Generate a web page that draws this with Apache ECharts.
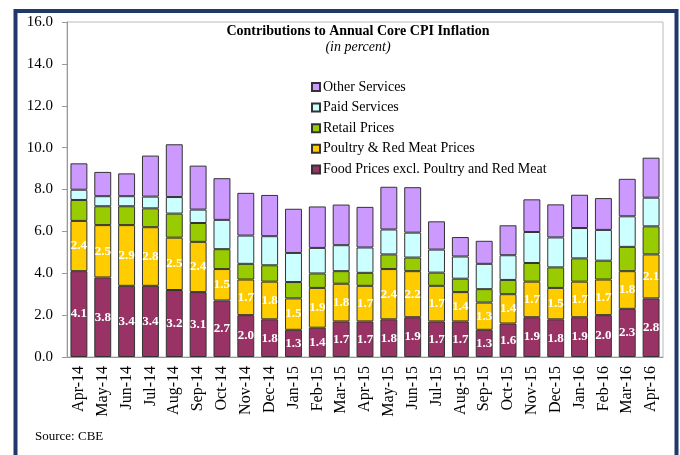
<!DOCTYPE html>
<html>
<head>
<meta charset="utf-8">
<script src="https://cdn.jsdelivr.net/npm/echarts@6/dist/echarts.min.js"></script>
<style>
  html, body { margin: 0; padding: 0; background: #fff; }
  #chart { width: 680px; height: 455px; }
</style>
</head>
<body>
<div id="chart"></div>
<script>
// months shown on the x axis
const months = ['Apr-14', 'May-14', 'Jun-14', 'Jul-14', 'Aug-14', 'Sep-14', 'Oct-14', 'Nov-14', 'Dec-14',
  'Jan-15', 'Feb-15', 'Mar-15', 'Apr-15', 'May-15', 'Jun-15', 'Jul-15', 'Aug-15', 'Sep-15', 'Oct-15',
  'Nov-15', 'Dec-15', 'Jan-16', 'Feb-16', 'Mar-16', 'Apr-16'];

// contributions (percentage points), bottom to top of each stack
const foodExcl = [4.1, 3.8, 3.4, 3.4, 3.2, 3.1, 2.7, 2.0, 1.8, 1.3, 1.4, 1.7, 1.7, 1.8, 1.9, 1.7, 1.7, 1.3, 1.6, 1.9, 1.8, 1.9, 2.0, 2.3, 2.8];
const poultryMeat = [2.4, 2.5, 2.9, 2.8, 2.5, 2.4, 1.5, 1.7, 1.8, 1.5, 1.9, 1.8, 1.7, 2.4, 2.2, 1.7, 1.4, 1.3, 1.4, 1.7, 1.5, 1.7, 1.7, 1.8, 2.1];
const retailPrices = [1.0, 0.9, 0.9, 0.9, 1.15, 0.9, 0.95, 0.75, 0.78, 0.78, 0.69, 0.6, 0.62, 0.7, 0.65, 0.63, 0.64, 0.64, 0.68, 0.89, 0.98, 1.11, 0.9, 1.16, 1.34];
const paidServices = [0.49, 0.48, 0.48, 0.56, 0.79, 0.64, 1.4, 1.35, 1.39, 1.39, 1.22, 1.24, 1.21, 1.19, 1.19, 1.1, 1.06, 1.21, 1.18, 1.48, 1.43, 1.45, 1.47, 1.46, 1.37];
const otherServices = [1.26, 1.16, 1.09, 1.96, 2.52, 2.1, 1.99, 2.04, 1.97, 2.11, 1.98, 1.94, 1.94, 2.04, 2.17, 1.35, 0.93, 1.1, 1.43, 1.56, 1.58, 1.59, 1.52, 1.79, 1.91];

const serif = '"Liberation Serif", "DejaVu Serif", serif';

const chart = echarts.init(document.getElementById('chart'));

// white bold value labels inside the two lower segments
const valueLabel = {
  show: true,
  position: 'inside',
  color: '#fff',
  fontFamily: serif,
  fontWeight: 'bold',
  fontSize: 13,
  formatter: p => p.value.toFixed(1)
};

function barSeries(name, data, color, label) {
  return {
    name: name,
    type: 'bar',
    stack: 'total',
    data: data,
    barWidth: '71%',
    itemStyle: { color: color, borderColor: '#333', borderWidth: 1 },
    label: label || { show: false },
    emphasis: { disabled: true }
  };
}

const option = {
  animation: false,
  backgroundColor: '#fff',
  title: {
    text: 'Contributions to Annual Core CPI Inflation',
    subtext: '(in percent)',
    left: 353,
    top: 19,
    textAlign: 'center',
    itemGap: 2,
    textStyle: { fontFamily: serif, fontWeight: 'bold', fontSize: 14, color: '#000' },
    subtextStyle: { fontFamily: serif, fontStyle: 'italic', fontSize: 14, color: '#000' }
  },
  legend: {
    orient: 'vertical',
    left: 306,
    top: 74,
    itemWidth: 8,
    itemHeight: 8,
    itemGap: 4.6,
    icon: 'rect',
    data: ['Other Services', 'Paid Services', 'Retail Prices', 'Poultry & Red Meat Prices',
      'Food Prices excl. Poultry and Red Meat'],
    textStyle: { fontFamily: serif, fontSize: 14, color: '#000', lineHeight: 16, padding: [0, 0, 0, -2] }
  },
  grid: {
    left: 67,
    right: 17,
    top: 22,
    bottom: 98,
    show: true,
    borderColor: '#bbb',
    borderWidth: 1
  },
  xAxis: {
    type: 'category',
    data: months,
    axisLine: { lineStyle: { color: '#999' } },
    axisTick: { lineStyle: { color: '#999' }, length: 5 },
    axisLabel: { rotate: 90, interval: 0, margin: 9, fontFamily: serif, fontSize: 16, color: '#000' }
  },
  yAxis: {
    type: 'value',
    min: 0,
    max: 16,
    interval: 2,
    axisLine: { show: true, lineStyle: { color: '#999' } },
    axisTick: { show: true, length: 5, lineStyle: { color: '#999' } },
    splitLine: { show: false },
    axisLabel: { margin: 14, fontFamily: serif, fontSize: 15, color: '#000', formatter: v => v.toFixed(1) }
  },
  series: [
    barSeries('Food Prices excl. Poultry and Red Meat', foodExcl, '#993366', valueLabel),
    barSeries('Poultry & Red Meat Prices', poultryMeat, '#FFCC00', valueLabel),
    barSeries('Retail Prices', retailPrices, '#99CC00'),
    barSeries('Paid Services', paidServices, '#CCFFFF'),
    barSeries('Other Services', otherServices, '#CC99FF')
  ],
  graphic: [
    {
      type: 'rect',
      shape: { x: 15.5, y: 11, width: 661, height: 470 },
      style: { fill: 'none', stroke: '#1F3A68', lineWidth: 4 },
      silent: true
    },
    {
      type: 'text',
      left: 35,
      top: 430,
      style: { text: 'Source: CBE', fontFamily: serif, fontSize: 13, fill: '#000' }
    }
  ]
};

chart.setOption(option);

window.addEventListener('resize', () => {
  chart.resize();
});
</script>
</body>
</html>
